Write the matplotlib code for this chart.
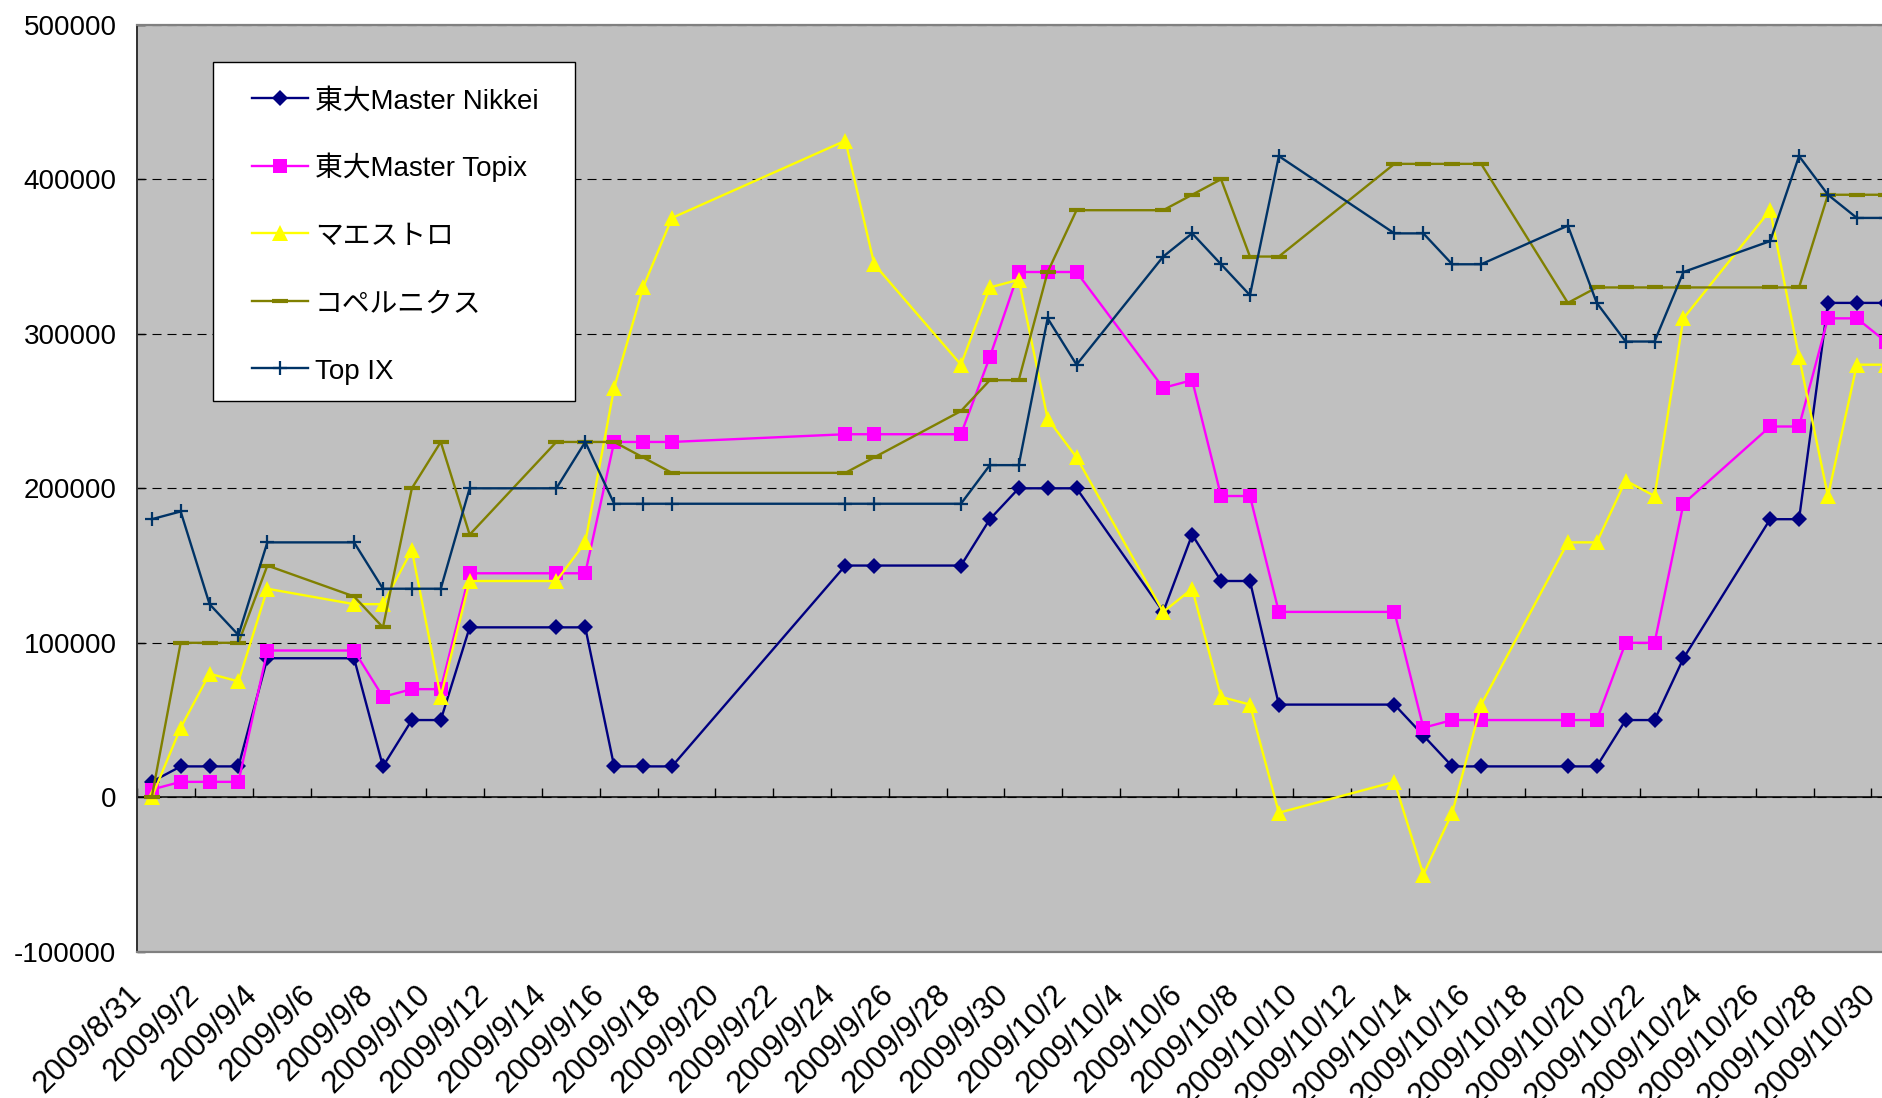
import datetime as dt
import matplotlib
matplotlib.use("Agg")
import matplotlib.pyplot as plt
from matplotlib.patches import Rectangle
from matplotlib.lines import Line2D

plt.rcParams['font.family'] = ['Liberation Sans', 'Noto Sans CJK JP']
plt.rcParams['font.size'] = 20
plt.rcParams['lines.scale_dashes'] = False

# trading days (Japan), Aug 31 - Oct 30 2009
days = ["2009/08/31", "2009/09/01", "2009/09/02", "2009/09/03", "2009/09/04",
        "2009/09/07", "2009/09/08", "2009/09/09", "2009/09/10", "2009/09/11",
        "2009/09/14", "2009/09/15", "2009/09/16", "2009/09/17", "2009/09/18",
        "2009/09/24", "2009/09/25",
        "2009/09/28", "2009/09/29", "2009/09/30", "2009/10/01", "2009/10/02",
        "2009/10/05", "2009/10/06", "2009/10/07", "2009/10/08", "2009/10/09",
        "2009/10/13", "2009/10/14", "2009/10/15", "2009/10/16",
        "2009/10/19", "2009/10/20", "2009/10/21", "2009/10/22", "2009/10/23",
        "2009/10/26", "2009/10/27", "2009/10/28", "2009/10/29", "2009/10/30"]

nikkei = [10000, 20000, 20000, 20000, 90000,
          90000, 20000, 50000, 50000, 110000,
          110000, 110000, 20000, 20000, 20000,
          150000, 150000,
          150000, 180000, 200000, 200000, 200000,
          120000, 170000, 140000, 140000, 60000,
          60000, 40000, 20000, 20000,
          20000, 20000, 50000, 50000, 90000,
          180000, 180000, 320000, 320000, 320000]

topix = [5000, 10000, 10000, 10000, 95000,
         95000, 65000, 70000, 70000, 145000,
         145000, 145000, 230000, 230000, 230000,
         235000, 235000,
         235000, 285000, 340000, 340000, 340000,
         265000, 270000, 195000, 195000, 120000,
         120000, 45000, 50000, 50000,
         50000, 50000, 100000, 100000, 190000,
         240000, 240000, 310000, 310000, 295000]

maestro = [0, 45000, 80000, 75000, 135000,
           125000, 125000, 160000, 65000, 140000,
           140000, 165000, 265000, 330000, 375000,
           425000, 345000,
           280000, 330000, 335000, 245000, 220000,
           120000, 135000, 65000, 60000, -10000,
           10000, -50000, -10000, 60000,
           165000, 165000, 205000, 195000, 310000,
           380000, 285000, 195000, 280000, 280000]

copernicus = [0, 100000, 100000, 100000, 150000,
              130000, 110000, 200000, 230000, 170000,
              230000, 230000, 230000, 220000, 210000,
              210000, 220000,
              250000, 270000, 270000, 340000, 380000,
              380000, 390000, 400000, 350000, 350000,
              410000, 410000, 410000, 410000,
              320000, 330000, 330000, 330000, 330000,
              330000, 330000, 390000, 390000, 390000]

topix_ix = [180000, 185000, 125000, 105000, 165000,
            165000, 135000, 135000, 135000, 200000,
            200000, 230000, 190000, 190000, 190000,
            190000, 190000,
            190000, 215000, 215000, 310000, 280000,
            350000, 365000, 345000, 325000, 415000,
            365000, 365000, 345000, 345000,
            370000, 320000, 295000, 295000, 340000,
            360000, 415000, 390000, 375000, 375000]

names = ["東大Master Nikkei", "東大Master Topix", "マエストロ", "コペルニクス", "Top IX"]
colors = ["#000080", "#FF00FF", "#FFFF00", "#808000", "#003366"]

tick_labels = ["2009/8/31", "2009/9/2", "2009/9/4", "2009/9/6", "2009/9/8",
               "2009/9/10", "2009/9/12", "2009/9/14", "2009/9/16", "2009/9/18",
               "2009/9/20", "2009/9/22", "2009/9/24", "2009/9/26", "2009/9/28",
               "2009/9/30", "2009/10/2", "2009/10/4", "2009/10/6", "2009/10/8",
               "2009/10/10", "2009/10/12", "2009/10/14", "2009/10/16", "2009/10/18",
               "2009/10/20", "2009/10/22", "2009/10/24", "2009/10/26", "2009/10/28",
               "2009/10/30"]
yticks = [-100000, 0, 100000, 200000, 300000, 400000, 500000]


def to_date(s):
    return dt.datetime.strptime(s, "%Y/%m/%d")


half = dt.timedelta(hours=12)
x = [to_date(d) + half for d in days]
bounds = [to_date(s) for s in tick_labels]

W, H = 1883, 1098
fig = plt.figure(figsize=(W / 100, H / 100), dpi=100)


def fx(px):
    return px / W


def fy(px):
    return 1 - px / H


x_start = dt.datetime(2009, 8, 31)
x_end = dt.datetime(2009, 11, 1)
px_day = 28.9
ax = fig.add_axes([fx(137.3), fy(951.8),
                   (x_end - x_start).days * px_day / W, (951.8 - 24.8) / H])
ax.set_facecolor('#C0C0C0')
ax.set_xlim(x_start, x_end)
ax.set_ylim(yticks[0], yticks[-1])

styles = [dict(marker='D', ms=8.5, mew=0),
          dict(marker='s', ms=10.5, mew=0),
          dict(marker='^', ms=11.5, mew=0),
          dict(marker='_', ms=11, mew=3),
          dict(marker='+', ms=10, mew=1.6)]

lines = []
for vals, name, c, st in zip([nikkei, topix, maestro, copernicus, topix_ix], names, colors, styles):
    ln, = ax.plot(x, vals, color=c, lw=1.7, label=name, **st)
    lines.append(ln)

ax.set_yticks(yticks)
ax.set_yticklabels([str(v) for v in yticks])
ax.yaxis.grid(True, color='black', lw=0.8, linestyle=(0, (6.5, 4.3)))
ax.set_axisbelow(True)
ax.tick_params(axis='y', direction='in', length=6, width=1, color='black', pad=15, labelsize=20)

# date labels sit at the day boundaries, below the plot area
ax.set_xticks(bounds)
ax.set_xticklabels(tick_labels)
ax.tick_params(axis='x', length=0, pad=27.5, labelsize=22.5)
for lab in ax.get_xticklabels():
    lab.set_rotation(45)
    lab.set_rotation_mode('anchor')
    lab.set_ha('right')
    lab.set_va('center')

ax.spines['right'].set_visible(False)
ax.spines['top'].set_color('#808080')
ax.spines['top'].set_linewidth(1.6)
ax.spines['bottom'].set_color('#808080')
ax.spines['bottom'].set_linewidth(1.6)
ax.spines['left'].set_color('#303030')
ax.spines['left'].set_linewidth(1.4)

# category axis line crossing at 0, ticks between days
zero_frac = (0 - yticks[0]) / (yticks[-1] - yticks[0])
zax = ax.secondary_xaxis(zero_frac)
zax.set_xticks(bounds)
zax.tick_params(axis='x', direction='in', length=6.5, width=1, color='black', labelbottom=False)
zax.spines['bottom'].set_color('black')
zax.spines['bottom'].set_linewidth(1.1)

# legend box, drawn by hand for even row spacing
fig.add_artist(Rectangle((fx(213), fy(401)), (575 - 213) / W, (401 - 62) / H,
                         transform=fig.transFigure, facecolor='white',
                         edgecolor='black', lw=1, zorder=4))
row_y = 98.3
for ln, name in zip(lines, names):
    fig.add_artist(Line2D([fx(252), fx(308)], [fy(row_y), fy(row_y)],
                          transform=fig.transFigure, color=ln.get_color(),
                          lw=ln.get_linewidth(), zorder=5))
    fig.add_artist(Line2D([fx(280)], [fy(row_y)], transform=fig.transFigure,
                          color=ln.get_color(), marker=ln.get_marker(),
                          ms=ln.get_markersize(), mew=ln.get_markeredgewidth(),
                          linestyle='none', zorder=6))
    fig.text(fx(315), fy(row_y + 10.5), name, fontsize=20, va='baseline',
             ha='left', zorder=6)
    row_y += 67.5

fig.savefig("out.png", dpi=100)
